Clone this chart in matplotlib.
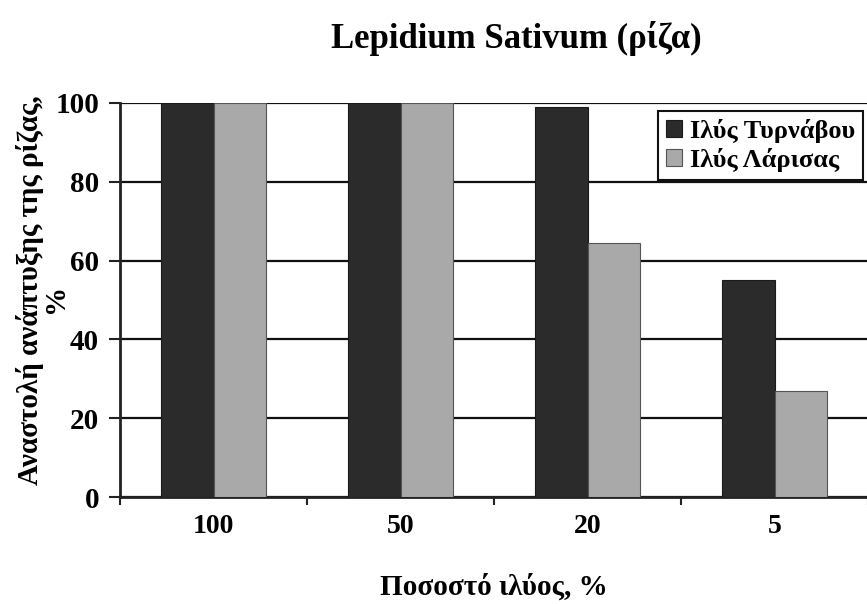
import matplotlib
matplotlib.use("Agg")
import matplotlib.pyplot as plt
import numpy as np

categories = ["100", "50", "20", "5"]
series_names = ["Ιλύς Τυρνάβου", "Ιλύς Λάρισας"]
tyrnavou = [100, 100, 99, 55]
larisas = [100, 100, 64.5, 27]
yticks = [0, 20, 40, 60, 80, 100]

plt.rcParams['font.family'] = ['Liberation Serif', 'DejaVu Serif']
plt.rcParams['font.weight'] = 'bold'

fig = plt.figure(figsize=(8.67, 6.04), dpi=100)
ax = fig.add_axes([0.1384, 0.177, 0.8630, 0.6525])

x = np.arange(len(categories))
w = 0.28
ax.bar(x - w/2, tyrnavou, width=w, color='#2b2b2b', edgecolor='#1a1a1a', linewidth=0.8,
       label=series_names[0], zorder=3)
ax.bar(x + w/2, larisas, width=w, color='#a9a9a9', edgecolor='#555555', linewidth=0.8,
       label=series_names[1], zorder=3)

ax.set_xlim(-0.5, len(categories) - 0.5)
ax.set_ylim(0, 100)
ax.set_yticks(yticks)
ax.set_yticklabels([str(v) for v in yticks], fontsize=21, fontweight='bold')
ax.set_xticks(x)
ax.set_xticklabels(categories, fontsize=20, fontweight='bold')
ax.tick_params(axis='x', which='major', length=0, pad=12)
ax.set_xticks(np.arange(len(categories) + 1) - 0.5, minor=True)
ax.tick_params(axis='x', which='minor', length=6, width=1.5, direction='out', color='#222222')
ax.tick_params(axis='y', length=8, width=1.5, direction='out', pad=7, color='#222222')

ax.yaxis.grid(True, color='#111111', linewidth=1.6, zorder=0)
ax.set_axisbelow(True)
for s in ['top', 'right']:
    ax.spines[s].set_visible(False)
ax.spines['left'].set_linewidth(2)
ax.spines['bottom'].set_linewidth(2)
ax.spines['left'].set_color('#222222')
ax.spines['bottom'].set_color('#222222')

fig.text(30/867, 1 - 290/604, "Αναστολή ανάπτυξης της ρίζας,", rotation=90,
         ha='center', va='center', fontsize=21, fontweight='bold')
fig.text(55/867, 1 - 298/604, "%", rotation=90,
         ha='center', va='center', fontsize=21, fontweight='bold')
ax.set_xlabel("Ποσοστό ιλύος, %", fontsize=21, fontweight='bold', labelpad=25)

fig.text(516/867, 1 - 38/604, "Lepidium Sativum (ρίζα)", ha='center', va='center',
         fontsize=25, fontweight='bold')

leg = ax.legend(loc='upper left', bbox_to_anchor=(0.719, 0.98), fontsize=19, frameon=True,
                fancybox=False, edgecolor='#111111', handlelength=0.6, handleheight=0.6,
                handletextpad=0.3, borderpad=0.3, labelspacing=0.2, borderaxespad=0)
leg.get_frame().set_linewidth(1.5)
leg.get_frame().set_facecolor('white')
leg.get_frame().set_alpha(1)

fig.savefig("out.png", dpi=100)
